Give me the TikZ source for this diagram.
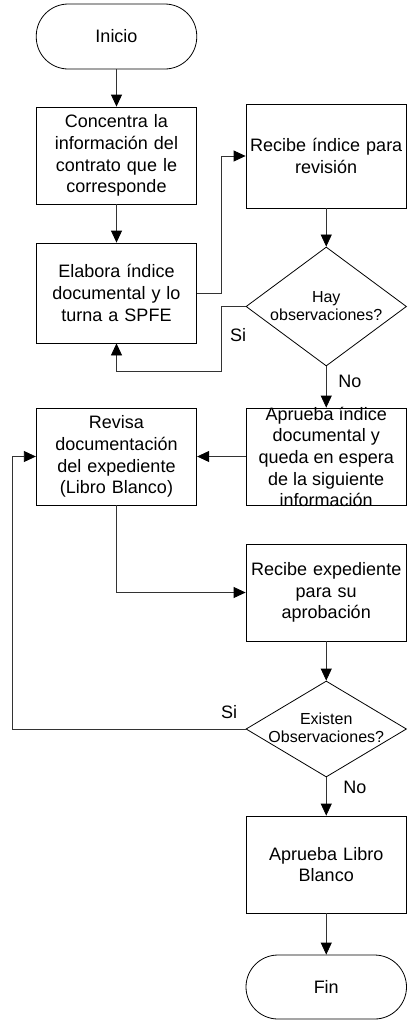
\documentclass[tikz,border=0pt]{standalone}
\usepackage{fontspec}
\setmainfont{Liberation Sans}
\usetikzlibrary{arrows.meta,shapes.geometric}
\begin{document}
\begin{tikzpicture}[x=1pt,y=-1pt,
  every node/.style={inner sep=0pt},
  boxnode/.style={draw=black,line width=0.8pt,rectangle,minimum width=160.5pt,minimum height=97pt,
     align=center,text width=158pt,font=\fontsize{18}{21.7}\selectfont},
  termnode/.style={draw=black,line width=0.8pt,rectangle,rounded corners=32pt,minimum width=160.5pt,
     minimum height=65pt,align=center,font=\fontsize{18}{21.7}\selectfont},
  decnode/.style={draw=black,line width=0.8pt,diamond,minimum width=160.5pt,minimum height=119pt},
  dectext/.style={align=center,font=\fontsize{16}{18.5}\selectfont},
  lbl/.style={font=\fontsize{18}{21.7}\selectfont},
  arr/.style={draw=black!80,line width=0.8pt,-{Triangle[length=12pt,width=11pt,color=black]}},
  conn/.style={draw=black!80,line width=0.8pt}]
\useasboundingbox (0,0) rectangle (407,1020);

\node[termnode] (start) at (116.5,36.5) {Inicio};
\node[boxnode] (b1) at (116.5,155.5) {Concentra la\\información del\\contrato que le\\corresponde};
\node[boxnode,minimum height=100pt] (b2) at (116.5,293) {Elabora índice\\documental y lo\\turna a SPFE};
\node[boxnode,minimum height=104pt] (b3) at (326.25,156) {Recibe índice para\\revisión\\[21.7pt]};
\node[decnode] (d1) at (326.25,306.5) {};
\node[dectext] (d1t) at (326.25,306) {Hay\\observaciones?};
\node[boxnode] (b4) at (326.25,456.5) {};
\node[align=center,font=\fontsize{18}{21.7}\selectfont] (b4t) at (326.25,457) {Aprueba índice\\documental y\\queda en espera\\de la siguiente\\información};
\node[boxnode] (b5) at (116.5,456.5) {Revisa\\documentación\\del expediente\\(Libro Blanco)};
\node[boxnode] (b6) at (326.25,592.5) {Recibe expediente\\para su\\aprobación};
\node[decnode,minimum height=96pt] (d2) at (326.25,729) {};
\node[dectext] (d2t) at (326.25,728) {Existen\\Observaciones?};
\node[boxnode] (b7) at (326.25,864.5) {Aprueba Libro\\Blanco};
\node[termnode,minimum height=64pt] (fin) at (326.25,987) {Fin};

\coordinate (c1) at (221,371);
\coordinate (c2) at (12,456.5);

\draw[arr] (start) -- (b1);
\draw[arr] (b1) -- (b2);
\draw[arr] (b2.east) -- ++(24,0) |- (b3.west);
\draw[arr] (b3) -- (d1);
\draw[arr] (d1.west) -| (c1) -| (b2.south);
\draw[arr] (d1) -- (b4);
\draw[arr] (b4) -- (b5);
\draw[arr] (b5.south) |- (b6.west);
\draw[arr] (b6) -- (d2);
\draw[arr] (d2.west) -| (c2) -- (b5.west);
\draw[arr] (d2) -- (b7);
\draw[arr] (b7) -- (fin);

\node[lbl] (si1) at (238,335) {Si};
\node[lbl] (no1) at (350,381) {No};
\node[lbl] (si2) at (229,712) {Si};
\node[lbl] (no2) at (355,787) {No};
\end{tikzpicture}
\end{document}
